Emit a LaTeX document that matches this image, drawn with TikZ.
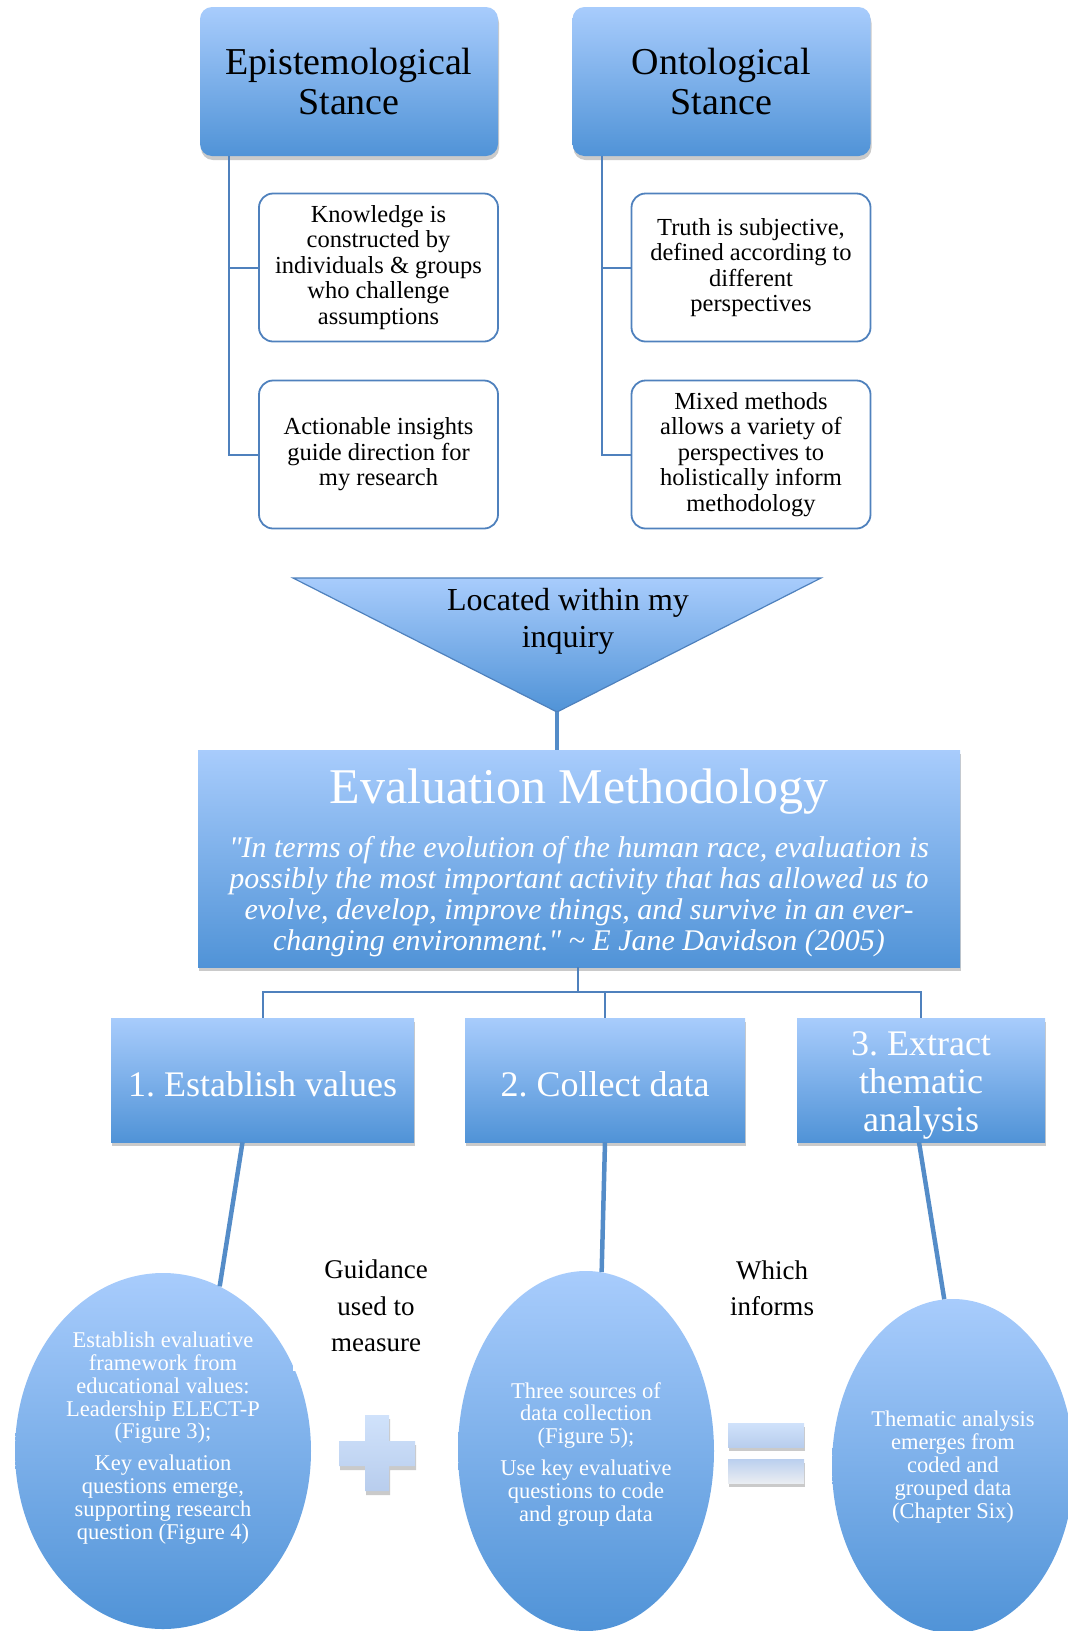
\documentclass[tikz,border=0pt]{standalone}
\usepackage{fontspec}
\setmainfont{Liberation Serif}
\usetikzlibrary{shapes.geometric,shadows}
\definecolor{gtop}{RGB}{168,204,252}
\definecolor{gbot}{RGB}{80,147,215}
\definecolor{lblue}{RGB}{79,129,189}
\definecolor{tblue}{RGB}{84,140,200}
\definecolor{ptop}{RGB}{208,226,251}
\definecolor{pbot}{RGB}{184,205,237}
\begin{document}
\frenchspacing
\begin{tikzpicture}[x=1pt,y=-1pt,
  shadowed/.style={drop shadow={shadow xshift=1pt,shadow yshift=-4pt,opacity=0.35,fill=black!60}},
  stancebox/.style={rounded corners=12pt, top color=gtop, bottom color=gbot, shadowed,
    minimum width=298pt, minimum height=149pt, align=center, inner sep=0pt,
    font=\fontsize{38}{40}\selectfont},
  subbox/.style={draw=lblue, line width=1.8pt, rounded corners=14pt, fill=white,
    minimum width=239pt, minimum height=148pt, align=center, inner sep=0pt,
    font=\fontsize{24.5}{25.5}\selectfont},
  evalbox/.style={top color=gtop, bottom color=gbot, shadowed, minimum width=762pt,
    minimum height=217pt, inner sep=0pt},
  stepbox/.style={top color=gtop, bottom color=gbot, shadowed, minimum height=124pt,
    inner sep=0pt},
  steptext/.style={align=center, text=white, font=\fontsize{36}{38}\selectfont},
  oval/.style={ellipse, top color=gtop, bottom color=gbot, inner sep=0pt},
  ovaltext/.style={align=center, text=white, font=\fontsize{22.5}{22.8}\selectfont},
  midtext/.style={align=center, font=\fontsize{27}{36.5}\selectfont},
  treeline/.style={draw=lblue, line width=2pt},
  thickline/.style={draw=tblue, line width=4.5pt},
  signshape/.style={top color=ptop, bottom color=pbot, shadowed}
]
\useasboundingbox (0,0) rectangle (1068,1631);
\clip (0,0) rectangle (1068,1631);

% top stance boxes
\node[stancebox] (epi) at (349,81.5) {Epistemological\\Stance};
\node[stancebox] (ont) at (721.5,81.5) {Ontological\\Stance};

% sub boxes
\node[subbox] (know) at (378.5,267.5) {Knowledge is\\constructed by\\individuals \& groups\\who challenge\\assumptions};
\node[subbox] (act) at (378.5,454.5) {Actionable insights\\guide direction for\\my research};
\node[subbox] (truth) at (751,267.5) {Truth is subjective,\\defined according to\\different\\perspectives};
\node[subbox] (mixed) at (751,454.5) {Mixed methods\\allows a variety of\\perspectives to\\holistically inform\\methodology};

\draw[treeline] ([xshift=-120pt]epi.south) |- (know.west);
\draw[treeline] ([xshift=-120pt]epi.south) |- (act.west);
\draw[treeline] ([xshift=-119.5pt]ont.south) |- (truth.west);
\draw[treeline] ([xshift=-119.5pt]ont.south) |- (mixed.west);

% triangle
\coordinate (tl) at (293,578);
\coordinate (tr) at (821,578);
\coordinate (apex) at (557,712);
\path[top color=gtop, bottom color=gbot, draw=lblue, line width=1.2pt] (tl) -- (tr) -- (apex) -- cycle;
\node[align=center, font=\fontsize{32}{37}\selectfont] (loc) at (568,621) {Located within my\\inquiry};

% evaluation box
\node[evalbox] (eval) at (579,858.5) {};
\node[text=white, font=\fontsize{50}{55}\selectfont] (evtitle) at (579,792) {Evaluation Methodology};
\node[text=white, align=center, font=\fontsize{30}{31}\selectfont\itshape] (quote) at (579,897)
  {\textquotedbl In terms of the evolution of the human race, evaluation is\\possibly the most important activity that has allowed us to\\evolve, develop, improve things, and survive in an ever-\\changing environment.\textquotedbl{} \textasciitilde{} E Jane Davidson (2005)};
\draw[thickline, line width=4pt] (apex) -- (apex |- eval.north);

% step boxes
\node[stepbox, minimum width=303pt] (b1) at (262.5,1080) {};
\node[stepbox, minimum width=280pt] (b2) at (605,1080) {};
\node[stepbox, minimum width=248pt] (b3) at (921,1080) {};
\node[steptext] (b1t) at (262.5,1084) {1. Establish values};
\node[steptext] (b2t) at (605,1084) {2. Collect data};
\node[steptext] (b3t) at (921,1085) {3. Extract\\thematic\\analysis};

\coordinate (hub) at (578,992);
\draw[treeline] (eval.south -| hub) -- (hub);
\draw[treeline] (b1.north) -- ++(0,-26) -| (b3.north);
\draw[treeline] (b2.north) -- (b2.north |- hub);

% ellipses
\node[oval, minimum width=296pt, minimum height=356pt] (e1) at (163,1451) {};
\node[oval, minimum width=256pt, minimum height=360pt] (e2) at (586,1451) {};
\node[oval, minimum width=242pt, minimum height=334pt] (e3) at (953,1466) {};

\node[ovaltext] (e1t) at (163,1438) {Establish evaluative\\framework from\\educational values:\\Leadership ELECT-P\\(Figure 3);\\[9pt]Key evaluation\\questions emerge,\\supporting research\\question (Figure 4)};
\node[ovaltext] (e2t) at (586,1454) {Three sources of\\data collection\\(Figure 5);\\[9pt]Use key evaluative\\questions to code\\and group data};
\node[ovaltext] (e3t) at (953,1467) {Thematic analysis\\emerges from\\coded and\\grouped data\\(Chapter Six)};

\node[midtext, fill=white, minimum width=166pt, minimum height=130pt] (guide) at (376,1306) {Guidance\\used to\\measure};
\node[midtext] (which) at (772,1288) {Which\\informs};

\draw[thickline] ([xshift=-20pt]b1.south) -- (e1.71);
\draw[thickline] (b2.south) -- (e2.85);
\draw[thickline] ([xshift=-2pt]b3.south) -- (e3.93);

% plus and equals
\path[signshape] (365,1415) -- (389,1415) -- (389,1441) -- (415,1441) -- (415,1466) -- (389,1466)
  -- (389,1491) -- (365,1491) -- (365,1466) -- (339,1466) -- (339,1441) -- (365,1441) -- cycle;
\path[signshape] (728,1423) rectangle (804,1447);
\path[signshape, top color=pbot!90!ptop, bottom color=pbot!80!black!20] (728,1459) rectangle (804,1483);
\end{tikzpicture}
\end{document}
